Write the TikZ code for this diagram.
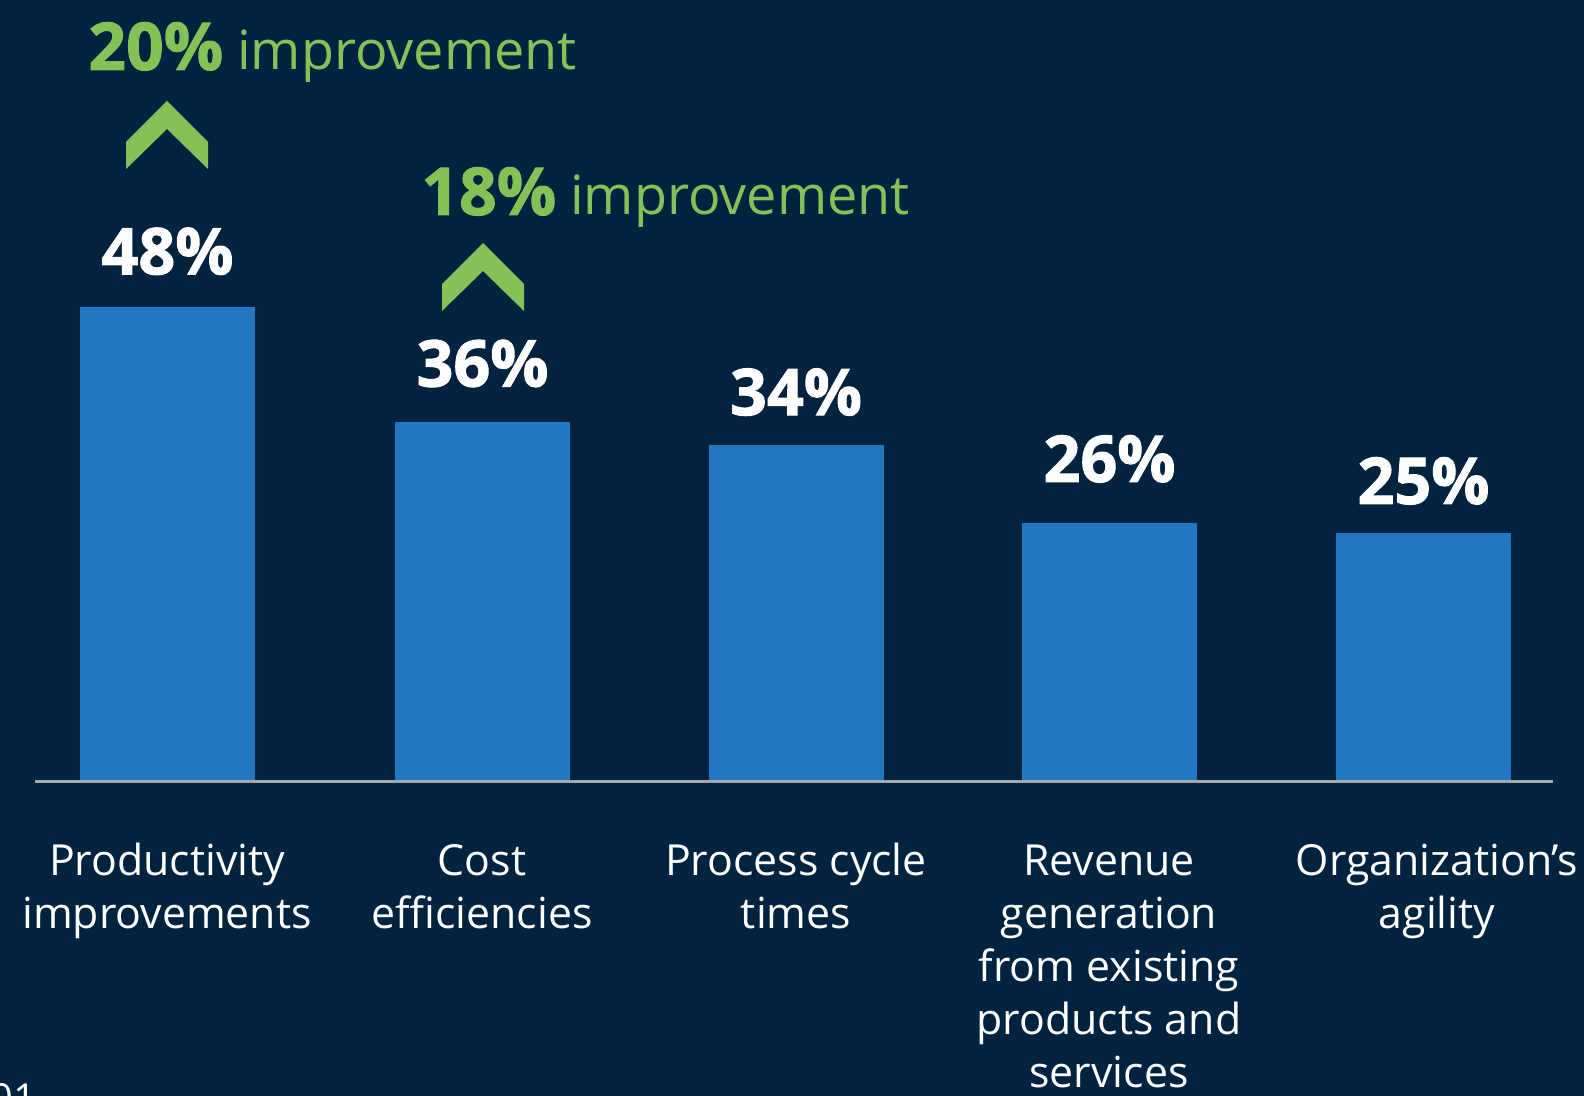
\documentclass[tikz,border=0pt]{standalone}
\usepackage{fontspec}
\setmainfont{Open Sans}[BoldFeatures={FakeBold=1.5}]
\usetikzlibrary{positioning}
\definecolor{navy}{HTML}{012340}
\definecolor{barblue}{HTML}{2178C0}
\definecolor{upgreen}{HTML}{84C156}
\definecolor{axisgray}{HTML}{A5A9AD}
\tikzset{
bar/.style={fill=barblue, inner sep=0pt, anchor=south, minimum width=87.5pt}, % the blue columns
pct/.style={text=white, inner sep=0pt, font=\bfseries\fontsize{32.3}{32.3}\selectfont}, % value on top of a column
cat/.style={text=white, inner sep=0pt, anchor=base, align=center, font=\fontsize{21.4}{26.5}\selectfont}, % label under the axis, anchored at its last line
gain/.style={text=upgreen, inner sep=0pt, anchor=base west, font=\fontsize{27}{27}\selectfont}, % green improvement note
chevron/.pic={\fill[upgreen] (-41,41) -- (0,0) -- (41,41) -- (41,68) -- (0,28) -- (-41,68) -- cycle;}, % green up mark
}

\begin{document}
\begin{tikzpicture}[x=0.5pt, y=-0.5pt, node distance=16pt]% one unit is one pixel, y runs down
  \useasboundingbox (0,0) rectangle (1584,1096);
  \fill[navy] (0,0) rectangle (1584,1096);

  \node[bar, minimum height=236.4pt] (b1) at (167.5,780) {};
  \node[bar, minimum height=178.8pt] (b2) at (482.5,780) {};
  \node[bar, minimum height=167.5pt] (b3) at (796,780) {};
  \node[bar, minimum height=128.1pt] (b4) at (1109.5,780) {};
  \node[bar, minimum height=123.1pt] (b5) at (1423.5,780) {};

  \node[pct, above=15.5pt of b1] (p1) {48\%};
  \node[pct, above=17pt of b2] (p2) {36\%};
  \node[pct, above=14pt of b3] (p3) {34\%};
  \node[pct, above=20pt of b4] (p4) {26\%};
  \node[pct, above=14pt of b5] (p5) {25\%};

  \coordinate (axl) at (35,781);
  \coordinate (axr) at (1553,781);
  \draw[axisgray, line width=1.5pt] (axl) -- (axr);

  \node[cat] (c1) at (167,928) {Productivity\\improvements};
  \node[cat] (c2) at (482,928) {Cost\\efficiencies};
  \node[cat] (c3) at (796,928) {Process cycle\\times};
  \node[cat] (c4) at (1109,1087) {Revenue\\generation\\from existing\\products and\\services};
  \node[cat] (c5) at (1437,928) {Organization’s\\agility};

  % improvement notes over the first two columns
  \pic at (167,101) {chevron};
  \pic at (483,243) {chevron};
  \node[gain] (g1) at (88,70) {{\bfseries\fontsize{33}{33}\selectfont 20\%} improvement};
  \node[gain] (g2) at (421,215) {{\bfseries\fontsize{33}{33}\selectfont 18\%} improvement};

  \node[text=white, inner sep=0pt, anchor=base west, font=\fontsize{20}{20}\selectfont] (pg) at (-10,1112) {01};
\end{tikzpicture}
\end{document}
